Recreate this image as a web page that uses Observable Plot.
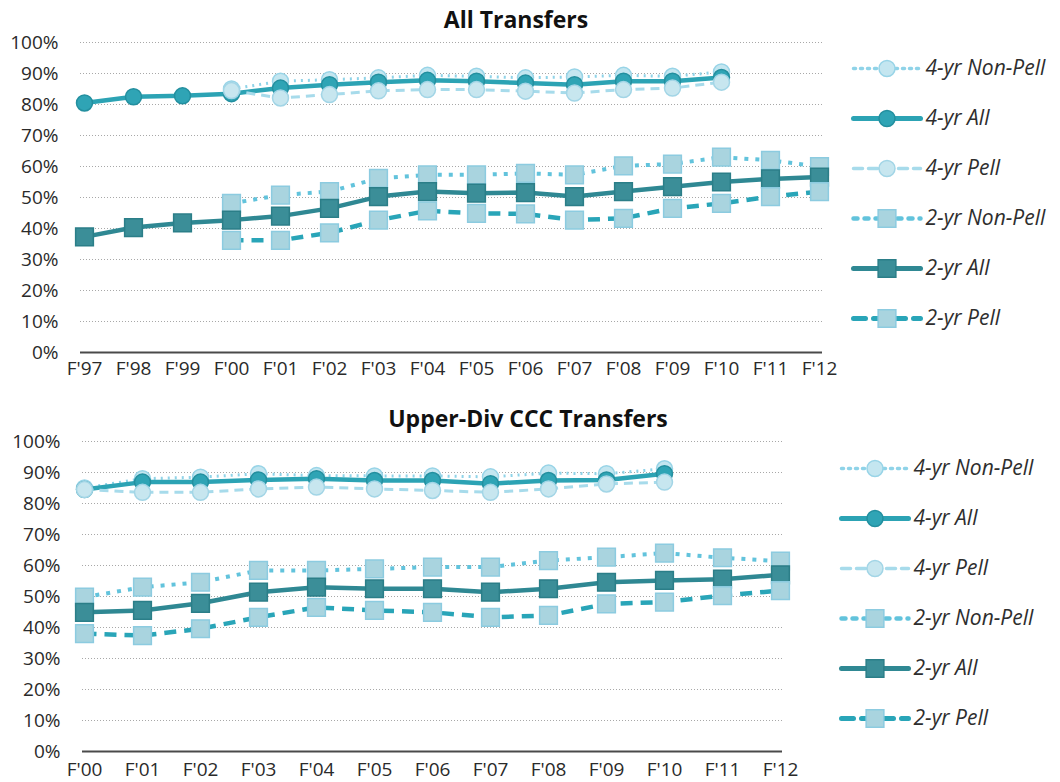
<!DOCTYPE html>
<html><head><meta charset="utf-8">
<script src="https://cdn.jsdelivr.net/npm/d3@7"></script>
<script src="https://cdn.jsdelivr.net/npm/@observablehq/plot@0.6"></script>
<style>
body{margin:0;background:#fff;font-family:"Open Sans",sans-serif;}
#root{position:relative;width:1060px;height:782px;overflow:hidden;background:#fff;}
.title{position:absolute;font-weight:700;font-size:23px;color:#111;transform:translateX(-50%);white-space:nowrap;line-height:30px;}
.box{position:absolute;}
</style></head><body><div id="root"></div>
<script>
// ---------- categories ----------
const yearsTop = ["F'97","F'98","F'99","F'00","F'01","F'02","F'03","F'04","F'05","F'06","F'07","F'08","F'09","F'10","F'11","F'12"];
const yearsBottom = ["F'00","F'01","F'02","F'03","F'04","F'05","F'06","F'07","F'08","F'09","F'10","F'11","F'12"];
const yTicks = [0,10,20,30,40,50,60,70,80,90,100];
const seriesNames = ["4-yr Non-Pell","4-yr All","4-yr Pell","2-yr Non-Pell","2-yr All","2-yr Pell"];

// ---------- All Transfers (F'97 .. F'12), percent ----------
const top4NonPell = [null,null,null,85.0,87.5,88.0,88.6,89.4,89.1,88.6,88.9,89.4,89.1,90.5,null,null];
const top4All     = [80.5,82.5,82.8,83.5,85.3,86.4,87.2,87.8,87.5,86.9,86.4,87.5,87.5,88.7,null,null];
const top4Pell    = [null,null,null,84.5,82.1,83.2,84.4,84.8,84.8,84.3,83.7,84.8,85.3,87.2,null,null];
const top2NonPell = [null,null,null,48.1,50.8,51.9,56.2,57.3,57.3,57.8,57.3,60.2,60.8,63.0,62.0,60.0];
const top2All     = [37.3,40.3,41.8,42.7,44.0,46.5,50.3,51.9,51.4,51.6,50.3,51.9,53.5,55.0,56.0,56.6];
const top2Pell    = [null,null,null,36.2,36.2,38.6,42.7,45.7,44.9,44.7,42.7,43.3,46.5,48.1,50.3,51.9];

// ---------- Upper-Div CCC Transfers (F'00 .. F'12), percent ----------
const bot4NonPell = [85.0,88.0,88.5,89.6,89.0,88.9,88.9,88.6,89.8,89.6,91.2,null,null];
const bot4All     = [84.5,86.9,86.9,87.6,88.0,87.4,87.4,86.4,87.4,87.6,89.6,null,null];
const bot4Pell    = [84.5,83.6,83.6,84.7,85.3,84.7,84.2,83.6,84.7,86.3,86.9,null,null];
const bot2NonPell = [49.8,53.0,54.6,58.4,58.4,58.9,59.5,59.5,61.6,62.7,64.0,62.5,61.4];
const bot2All     = [44.9,45.5,47.8,51.4,53.0,52.5,52.5,51.4,52.5,54.6,55.2,55.6,57.0];
const bot2Pell    = [38.0,37.4,39.6,43.3,46.5,45.5,44.9,43.3,43.9,47.6,48.2,50.3,51.9];

// ---------- styles ----------
const styles = {
  "4-yr Non-Pell": {stroke:"#8fd3e8", width:3, dash:"2,5", symbol:"circle", r:8, fill:"#c4e6f0", dotStroke:"#98d4e7"},
  "4-yr All":      {stroke:"#2ca3b4", width:4.5, dash:null, symbol:"circle", r:8, fill:"#2fa4b5", dotStroke:"#238f9f"},
  "4-yr Pell":     {stroke:"#a7dbeb", width:3, dash:"9,6", symbol:"circle", r:8, fill:"#c7e6ef", dotStroke:"#a2d5e6"},
  "2-yr Non-Pell": {stroke:"#62c3dc", width:4, dash:"4,7", symbol:"square", r:10, fill:"#a9d4df", dotStroke:"#8ccbe0"},
  "2-yr All":      {stroke:"#2f8893", width:4.5, dash:null, symbol:"square", r:10, fill:"#3b8e98", dotStroke:"#2b7e88"},
  "2-yr Pell":     {stroke:"#29a5b8", width:4.5, dash:"12,8", symbol:"square", r:10, fill:"#a9d4df", dotStroke:"#8ccbe0"}
};

function rows(years, arr){ return years.map((yr,i)=>({year:yr, value:arr[i]})).filter(d=>d.value!=null); }

function seriesMarks(years, arrays){
  const marks = [];
  seriesNames.forEach((name,k)=>{
    const s = styles[name];
    const data = rows(years, arrays[k]);
    marks.push(Plot.line(data, {x:"year", y:"value", stroke:s.stroke, strokeWidth:s.width,
      strokeDasharray:s.dash||undefined, strokeLinecap:"butt", strokeLinejoin:"round"}));
    marks.push(Plot.dot(data, {x:"year", y:"value", symbol:s.symbol, r:s.r, fill:s.fill,
      stroke:s.dotStroke, strokeWidth:1.5}));
  });
  return marks;
}

function chart(years, arrays, o){
  return Plot.plot({
    width:o.width, height:o.height,
    marginLeft:o.ml, marginRight:o.mr, marginTop:o.mt, marginBottom:o.mb,
    style:"font-family:'Open Sans',sans-serif;font-size:19px;color:#2a2a2a;background:transparent;overflow:visible;",
    x:{type:"point", domain:years, padding:0, label:null, tickSize:0, tickPadding:o.xpad},
    y:{domain:[0,100], ticks:yTicks, tickFormat:d=>d+"%", label:null, tickSize:0, tickPadding:o.ypad},
    marks:[
      Plot.ruleY(yTicks.filter(d=>d>0), {stroke:"#a8a8a8", strokeWidth:1, strokeDasharray:"1,2"}),
      Plot.ruleY([0], {stroke:"#4a4a4a", strokeWidth:2}),
      ...seriesMarks(years, arrays)
    ]
  });
}

function legend(o){
  const marks = [];
  seriesNames.forEach(name=>{
    const s = styles[name];
    const seg = [{x:0,y:name},{x:1,y:name}];
    marks.push(Plot.line(seg, {x:"x", y:"y", stroke:s.stroke, strokeWidth:s.width+0.5, strokeDasharray:s.dash||undefined}));
    marks.push(Plot.dot([{x:0.5,y:name}], {x:"x", y:"y", symbol:s.symbol, r:s.r, fill:s.fill, stroke:s.dotStroke, strokeWidth:1.5}));
    marks.push(Plot.text([{x:1,y:name}], {x:"x", y:"y", text:d=>d.y, textAnchor:"start", dx:5,
      fontSize:21, fontStyle:"italic", fill:"#2e2e2e"}));
  });
  return Plot.plot({
    width:o.width, height:o.height,
    marginLeft:o.ml, marginRight:o.mr, marginTop:o.mt, marginBottom:o.mb,
    style:"font-family:'Open Sans',sans-serif;background:transparent;overflow:visible;",
    x:{domain:[0,1], axis:null},
    y:{type:"point", domain:seriesNames, padding:0, axis:null},
    marks
  });
}

const root = document.getElementById("root");
function place(node, left, top, cls){
  const d = document.createElement("div"); d.className = cls||"box";
  d.style.left = left+"px"; d.style.top = top+"px"; d.appendChild(node); root.appendChild(d); return d;
}
function title(text, cx, top){
  const d = document.createElement("div"); d.className="title"; d.textContent=text;
  d.style.left = cx+"px"; d.style.top = top+"px"; root.appendChild(d);
}

// top chart
place(chart(yearsTop, [top4NonPell,top4All,top4Pell,top2NonPell,top2All,top2Pell],
  {width:850, height:390, ml:80, mr:28, mt:42, mb:38, xpad:9, ypad:22}), 0, 0);
place(legend({width:220, height:380, ml:13, mr:140, mt:67, mb:62}), 840, 0);
title("All Transfers", 516, 4);

// bottom chart
place(chart(yearsBottom, [bot4NonPell,bot4All,bot4Pell,bot2NonPell,bot2All,bot2Pell],
  {width:850, height:382, ml:82, mr:68, mt:41, mb:31, xpad:11, ypad:22}), 0, 400);
place(legend({width:220, height:380, ml:13, mr:140, mt:66, mb:61}), 828, 400);
title("Upper-Div CCC Transfers", 528, 403);
</script></body></html>
